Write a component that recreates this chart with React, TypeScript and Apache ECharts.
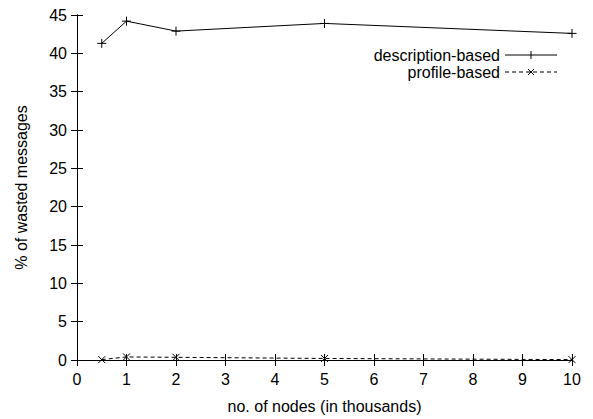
import React, { useEffect, useRef } from "react";
import * as echarts from "echarts";

const nodesK = [0.5, 1, 2, 5, 10];
const descriptionBased = [41.3, 44.2, 42.9, 43.9, 42.6];
const profileBased = [0.05, 0.4, 0.35, 0.2, 0.05];
const seriesNames = ["description-based", "profile-based"];
const xTitle = "no. of nodes (in thousands)";
const yTitle = "% of wasted messages";

const FONT = "'Liberation Sans', Arial, sans-serif";
const FS = 16;
const PLUS = "path://M0,5L10,5M5,0L5,10";
const CROSS = "path://M0,0L10,10M10,0L0,10";

export default function App() {
  const ref = useRef<HTMLDivElement>(null);
  useEffect(() => {
    const chart = echarts.init(ref.current!, null, { renderer: "svg" });
    const axisCommon = {
      type: "value" as const,
      splitLine: { show: false },
      axisLine: { show: true, lineStyle: { color: "#000", width: 1 } },
      axisTick: { show: true, inside: true, length: 6, lineStyle: { color: "#000" } },
    };
    const label = { color: "#000", fontFamily: FONT, fontSize: FS };
    chart.setOption({
      animation: false,
      backgroundColor: "#fff",
      grid: { left: 77, right: 21, top: 15, bottom: 55 },
      xAxis: [
        {
          ...axisCommon,
          min: 0, max: 10, interval: 1,
          position: "bottom",
          axisLabel: { ...label, margin: 11 },
          name: xTitle,
          nameLocation: "middle",
          nameGap: 38,
          nameTextStyle: { ...label },
        },
        {
          ...axisCommon,
          min: 0, max: 10, interval: 1,
          position: "top",
          axisLabel: { show: false },
        },
      ],
      yAxis: [
        {
          ...axisCommon,
          min: 0, max: 45, interval: 5,
          position: "left",
          axisLabel: { ...label, margin: 10 },
          name: yTitle,
          nameLocation: "middle",
          nameGap: 48,
          nameTextStyle: { ...label },
        },
        {
          ...axisCommon,
          min: 0, max: 45, interval: 5,
          position: "right",
          axisLabel: { show: false },
        },
      ],
      series: [
        {
          name: seriesNames[0],
          type: "line",
          data: nodesK.map((x, i) => [x, descriptionBased[i]]),
          symbol: PLUS,
          symbolSize: 9,
          showSymbol: true,
          lineStyle: { color: "#000", width: 1 },
          itemStyle: { color: "none", borderColor: "#000", borderWidth: 1 },
        },
        {
          name: seriesNames[1],
          type: "line",
          data: nodesK.map((x, i) => [x, profileBased[i]]),
          symbol: CROSS,
          symbolSize: 7,
          showSymbol: true,
          lineStyle: { color: "#000", width: 1, type: [4, 3] },
          itemStyle: { color: "none", borderColor: "#000", borderWidth: 1 },
        },
      ],
      graphic: [
        {
          type: "text",
          x: 500,
          y: 55,
          style: { text: seriesNames[0], font: `${FS}px ${FONT}`, fill: "#000", align: "right", verticalAlign: "middle" },
        },
        {
          type: "text",
          x: 500,
          y: 72,
          style: { text: seriesNames[1], font: `${FS}px ${FONT}`, fill: "#000", align: "right", verticalAlign: "middle" },
        },
        { type: "line", shape: { x1: 505, y1: 55, x2: 557, y2: 55 }, style: { stroke: "#000", lineWidth: 1 } },
        { type: "line", shape: { x1: 531, y1: 51, x2: 531, y2: 59 }, style: { stroke: "#000", lineWidth: 1 } },
        { type: "line", shape: { x1: 505, y1: 72, x2: 557, y2: 72 }, style: { stroke: "#000", lineWidth: 1, lineDash: [4, 3] } },
        { type: "line", shape: { x1: 528, y1: 69, x2: 534, y2: 75 }, style: { stroke: "#000", lineWidth: 1 } },
        { type: "line", shape: { x1: 534, y1: 69, x2: 528, y2: 75 }, style: { stroke: "#000", lineWidth: 1 } },
      ],
    });
    return () => chart.dispose();
  }, []);
  return <div ref={ref} style={{ width: 593, height: 419, position: "absolute", left: 0, top: 0 }} />;
}
